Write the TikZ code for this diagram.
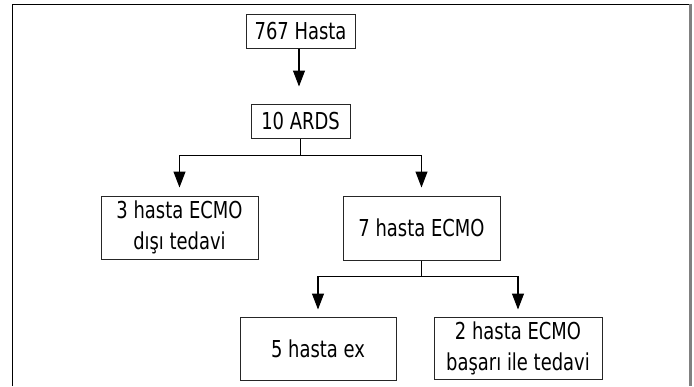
\documentclass[tikz,border=0pt]{standalone}
\usepackage{fontspec}
\setmainfont[FakeStretch=0.77]{DejaVu Sans}
\usetikzlibrary{arrows.meta}
\tikzset{
  box/.style={draw=black!85, line width=1pt, inner sep=0pt, align=center,
    font=\fontsize{23.3}{31}\selectfont},
  conn/.style={line width=1.1pt, draw=black},
  arr/.style={conn, -{Triangle[width=12pt,length=16pt]}},
}
\begin{document}
\begin{tikzpicture}[x=1pt,y=1pt]
\useasboundingbox (0,0) rectangle (694,-386);
% outer frame
\draw[line width=1.3pt, black] (12.5,-386) -- (12.5,-4.5) -- (689,-4.5);
\draw[line width=2.2pt, black!50] (690.5,-3.5) -- (690.5,-386);

\node[box, minimum width=109pt, minimum height=34pt] (h767) at (300.5,-31) {767 Hasta};
\node[box, minimum width=99pt, minimum height=34pt] (ards) at (300.5,-121) {10 ARDS};
\node[box, minimum width=157pt, minimum height=63pt] (n3) at (179.5,-227.5) {3 hasta ECMO\\dışı tedavi};
\node[box, minimum width=157pt, minimum height=64pt] (n7) at (421.5,-228) {7 hasta ECMO};
\node[box, minimum width=156pt, minimum height=63pt] (n5) at (318,-348.5) {5 hasta ex};
\node[box, minimum width=168pt, minimum height=62pt] (n2) at (518,-348) {2 hasta ECMO\\başarı ile tedavi};

\draw[arr, shorten >=17pt] (h767.south -| 299,0) -- (ards.north -| 299,0);
\draw[conn] (ards.south) -- ++(0,-17) coordinate (s1);
\draw[arr, shorten >=8pt] (s1) -| (n3.north);
\draw[arr, shorten >=8pt] (s1) -| (n7.north);
\draw[conn] (n7.south) -- ++(0,-16) coordinate (s2);
\draw[arr, shorten >=7pt] (s2) -| (n5.north);
\draw[arr, shorten >=7pt] (s2) -| (n2.north);
\end{tikzpicture}
\end{document}
